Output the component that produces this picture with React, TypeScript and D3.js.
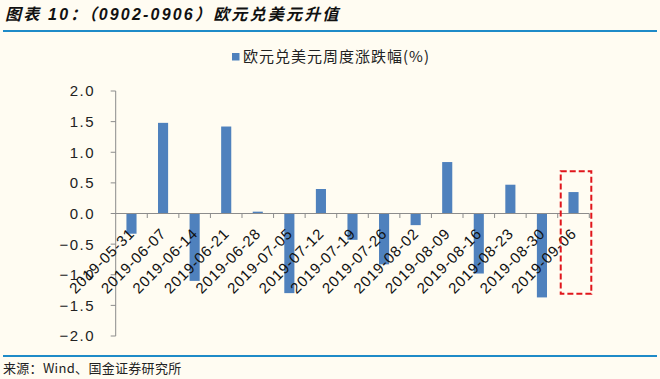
import React from "react";
import * as d3 from "d3";

const categories = [
  "2019-05-31", "2019-06-07", "2019-06-14", "2019-06-21", "2019-06-28",
  "2019-07-05", "2019-07-12", "2019-07-19", "2019-07-26", "2019-08-02",
  "2019-08-09", "2019-08-16", "2019-08-23", "2019-08-30", "2019-09-06",
];
const values = [
  -0.33, 1.48, -1.1, 1.42, 0.03,
  -1.3, 0.4, -0.43, -0.83, -0.19,
  0.84, -0.98, 0.47, -1.37, 0.35,
];
const yTicks = [2.0, 1.5, 1.0, 0.5, 0.0, -0.5, -1.0, -1.5, -2.0];
const highlightCategory = "2019-09-06";
const highlightRange = [0.69, -1.31];

const title = "图表 10：（0902-0906）欧元兑美元升值";
const legendLabel = "欧元兑美元周度涨跌幅(%)";
const sourceText = "来源：Wind、国金证券研究所";

const W = 660;
const H = 379;
const plotLeft = 115.7;
const plotRight = 589.3;
const plotTop = 91;
const plotBottom = 336;

export default function App() {
  const x = d3.scaleBand<string>().domain(categories).range([plotLeft, plotRight]).paddingInner(0.68).paddingOuter(0.34);
  const band = d3.scaleBand<string>().domain(categories).range([plotLeft, plotRight]);
  const y = d3.scaleLinear().domain([-2, 2]).range([plotBottom, plotTop]);
  const fmt = d3.format(".1f");
  const y0 = y(0);
  const axisColor = "#8c8c8c";
  const barColor = "#4f81bd";
  const latin = "Arial, 'Liberation Sans', 'Noto Sans CJK SC', sans-serif";
  const cjk = "'Noto Sans CJK SC', 'DejaVu Sans', sans-serif";

  const hx0 = (band(highlightCategory) as number) + 3;
  const hx1 = (band(highlightCategory) as number) + band.bandwidth() + 2;
  const hy0 = y(highlightRange[0]);
  const hy1 = y(highlightRange[1]);

  const boundaries = categories.map((c) => (band(c) as number) + band.bandwidth());

  return (
    <svg width={W} height={H} style={{ position: "absolute", left: 0, top: 0, background: "#fffcf2" }}>
      <rect x={0} y={0} width={W} height={H} fill="#fffcf2" />
      <text x={5} y={19.5} fontSize={16} fontWeight="bold" fontStyle="italic" letterSpacing={2.2} fontFamily={latin} fill="#111">
        {title}
      </text>
      <line x1={3} x2={657} y1={31} y2={31} stroke="#1f8bc8" strokeWidth={2} />
      <line x1={3} x2={657} y1={356} y2={356} stroke="#1f8bc8" strokeWidth={2} />
      <text x={3} y={373} fontSize={13} fontFamily={cjk} letterSpacing={0.3} fill="#222">
        {sourceText}
      </text>

      {/* legend */}
      <rect x={232} y={53} width={7.5} height={7.5} fill={barColor} />
      <text x={243} y={62} fontSize={15} fontFamily={cjk} letterSpacing={1} fill="#222">
        {legendLabel}
      </text>

      {/* bars */}
      {categories.map((c, i) => {
        const v = values[i];
        const yv = y(v);
        return (
          <rect key={c} x={x(c)} width={x.bandwidth()} y={Math.min(yv, y0)} height={Math.abs(yv - y0)} fill={barColor} />
        );
      })}

      {/* y axis */}
      <line x1={plotLeft} x2={plotLeft} y1={plotTop} y2={plotBottom} stroke={axisColor} strokeWidth={1} />
      {yTicks.map((t) => (
        <g key={t}>
          <line x1={plotLeft - 5} x2={plotLeft} y1={y(t)} y2={y(t)} stroke={axisColor} strokeWidth={1} />
          <text x={95} y={y(t)} dy="0.36em" textAnchor="end" fontSize={15} letterSpacing={1.5} fontFamily={latin} fill="#222">
            {fmt(t)}
          </text>
        </g>
      ))}

      {/* x axis */}
      <line x1={plotLeft} x2={plotRight} y1={y0} y2={y0} stroke={axisColor} strokeWidth={1} />
      {boundaries.map((bx, i) => (
        <line key={i} x1={bx} x2={bx} y1={y0} y2={y0 + 4.5} stroke={axisColor} strokeWidth={1} />
      ))}
      {categories.map((c) => {
        const cx = (band(c) as number) + band.bandwidth() / 2;
        return (
          <text key={c} transform={`translate(${cx + 4},${y0 + 21}) rotate(-45)`} textAnchor="end" fontSize={15} letterSpacing={0.8} fontFamily={latin} fill="#111">
            {c}
          </text>
        );
      })}

      {/* highlight box */}
      <rect x={hx0} y={hy0} width={hx1 - hx0} height={hy1 - hy0} fill="none" stroke="#e0161c" strokeWidth={2} strokeDasharray="6,3" />
    </svg>
  );
}
